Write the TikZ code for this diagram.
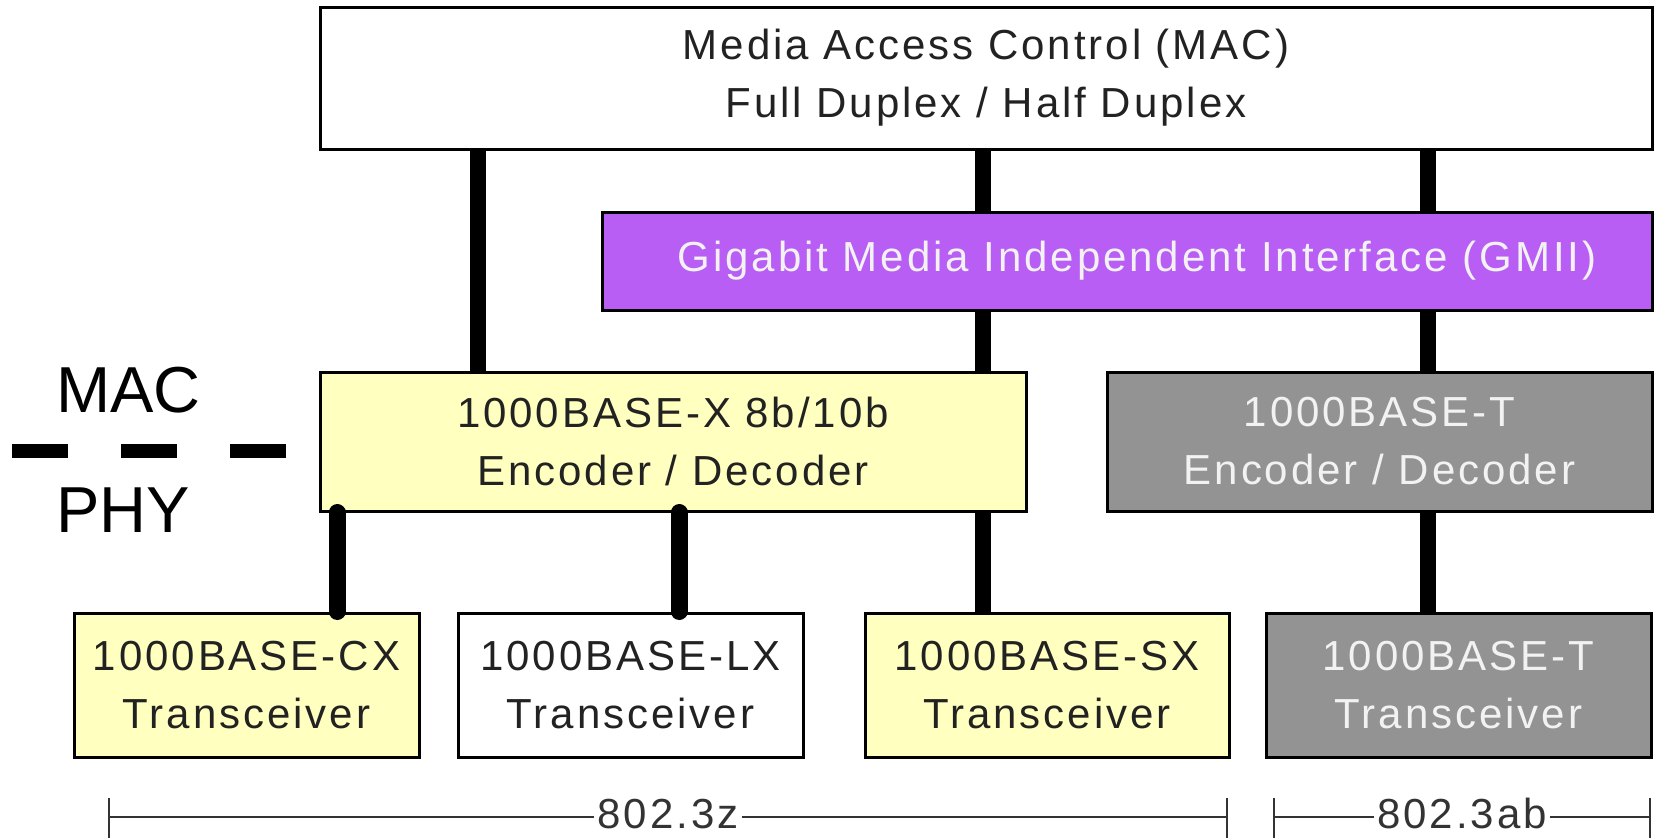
\documentclass[tikz,border=0pt]{standalone}
\usepackage{fontspec}
\setmainfont{Liberation Sans}[LetterSpace=7]
\newfontfamily\labfont{Liberation Sans}
\definecolor{boxyellow}{HTML}{FFFFC0}
\definecolor{gmiipurple}{HTML}{B85EF5}
\definecolor{phygray}{HTML}{939393}
\definecolor{lighttext}{HTML}{F2F2F2}
\definecolor{darktext}{HTML}{222222}
\definecolor{spangray}{HTML}{333333}
\pgfdeclarelayer{bg}
\pgfsetlayers{bg,main}
\begin{document}
\begin{tikzpicture}[x=1pt,y=-1pt,
  box/.style={draw=black,line width=3pt,align=center,inner sep=0pt,
    font=\fontsize{42}{58}\selectfont,text=darktext},
  bus/.style={line width=16pt,black},
  tap/.style={line width=17pt,black,line cap=round},
  layerlabel/.style={font=\labfont\fontsize{65}{70}\selectfont,anchor=base west,inner sep=0pt},
  spanlabel/.style={font=\fontsize{42}{50}\selectfont,text=spangray,inner sep=3pt,anchor=base},
  spanline/.style={line width=2pt,spangray},
  spanbar/.style={line width=2.5pt,spangray}]
\useasboundingbox (0,0) rectangle (1662,838);

% boxes
\node[box,fill=white,minimum width=1332pt,minimum height=142pt] (mac) at (986,78)
  {Media Access Control (MAC)\\Full Duplex / Half Duplex};
\node[box,fill=gmiipurple,text=lighttext,minimum width=1050pt,minimum height=98pt] (gmii) at (1127,261)
  {\hspace*{20pt}Gigabit Media Independent Interface (GMII)};
\node[box,fill=boxyellow,minimum width=706pt,minimum height=139pt] (encx) at (673,441.5)
  {1000BASE-X 8b/10b\\Encoder / Decoder};
\node[box,fill=phygray,text=lighttext,minimum width=545pt,minimum height=139pt] (enct) at (1379.5,441.5)
  {1000BASE-T\\Encoder / Decoder};
\node[box,fill=boxyellow,minimum width=345pt,minimum height=144pt] (cx) at (246.5,685)
  {1000BASE-CX\\Transceiver};
\node[box,fill=white,minimum width=345pt,minimum height=144pt] (lx) at (630.5,685)
  {1000BASE-LX\\Transceiver};
\node[box,fill=boxyellow,minimum width=364pt,minimum height=144pt] (sx) at (1047,685)
  {1000BASE-SX\\Transceiver};
\node[box,fill=phygray,text=lighttext,minimum width=385pt,minimum height=144pt] (tt) at (1458.5,685)
  {1000BASE-T\\Transceiver};

% white page and buses behind the boxes
\begin{pgfonlayer}{bg}
  \fill[white] (0,0) rectangle (1662,838);
  \draw[bus] (478,0 |- mac.south) -- (478,0 |- encx.north);
  \draw[bus] (983,0 |- mac.south) -- (983,0 |- sx.north);
  \draw[bus] (1428,0 |- mac.south) -- (1428,0 |- tt.north);
\end{pgfonlayer}

% taps from the 8b/10b coder to CX and LX
\draw[tap] (337,0 |- encx.south) -- (337,0 |- cx.north);
\draw[tap] (679,0 |- encx.south) -- (679,0 |- lx.north);

% MAC / PHY boundary
\node[layerlabel] (maclab) at (56,412) {MAC};
\node[layerlabel] (phylab) at (56,532) {PHY};
\coordinate (divl) at (12,451);
\coordinate (divr) at (286,451);
\draw[line width=14pt,dash pattern=on 56pt off 53pt] (divl) -- (divr);

% standard spans
\coordinate (zl) at (109,798);
\coordinate (zr) at (1227,798);
\coordinate (abl) at (1274,798);
\coordinate (abr) at (1650,798);
\node[spanlabel] (z) at (668,828) {802.3z};
\node[spanlabel] (ab) at (1462,828) {802.3ab};
\draw[spanbar] (zl) -- ++(0,40);
\draw[spanbar] (zr) -- ++(0,40);
\draw[spanbar] (abl) -- ++(0,40);
\draw[spanbar] (abr) -- ++(0,40);
\draw[spanline] (zl |- 0,817) -- (z.west |- 0,817);
\draw[spanline] (z.east |- 0,817) -- (zr |- 0,817);
\draw[spanline] (abl |- 0,817) -- (ab.west |- 0,817);
\draw[spanline] (ab.east |- 0,817) -- (abr |- 0,817);
\end{tikzpicture}
\end{document}
